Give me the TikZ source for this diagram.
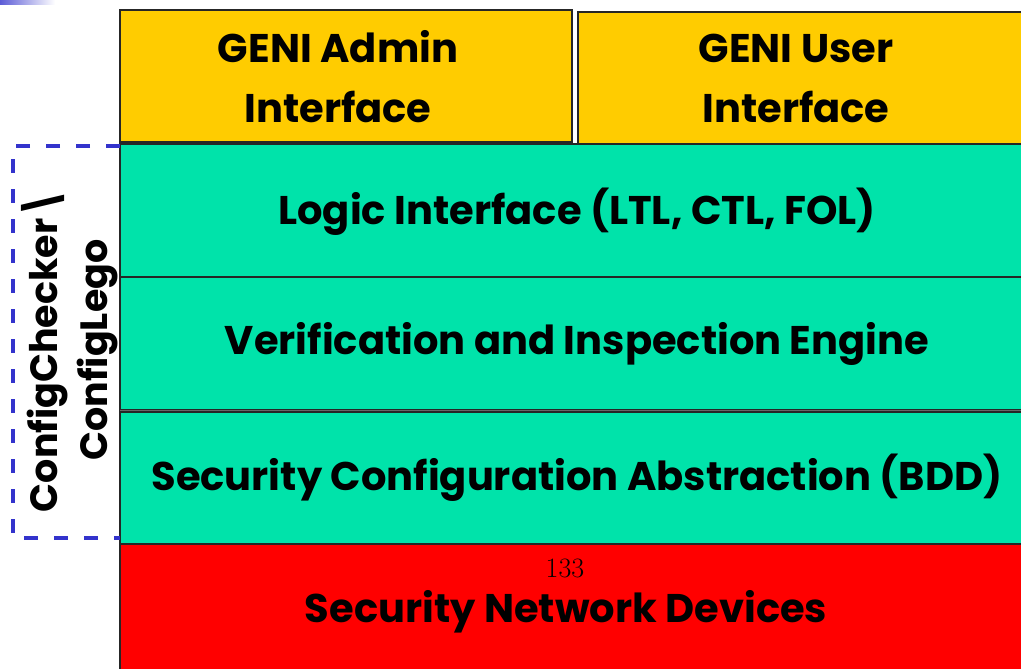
\documentclass[tikz,border=0pt]{standalone}
\usepackage{fontspec}
\setmainfont{Poppins}[BoldFont={Poppins Bold}]
\newfontfamily\numfont{Latin Modern Roman}
\begin{document}
\begin{tikzpicture}[x=1pt,y=-1pt,
  layer/.style={draw=black!85,line width=1.6pt,anchor=north west,inner sep=0pt,outer sep=0pt},
  lbl/.style={font=\bfseries\fontsize{40}{60}\selectfont,text=black,align=center}]
\definecolor{gyel}{RGB}{255,204,0}
\definecolor{ggrn}{RGB}{0,227,170}
\definecolor{gred}{RGB}{255,0,0}
\definecolor{gblu}{RGB}{51,51,204}
\useasboundingbox (0,0) rectangle (1021,669);
\shade[left color=gblu!80,right color=white] (0,0) rectangle (55,5);
% boxes
\node[layer,fill=gyel,minimum width=452pt,minimum height=132pt] (admin) at (120,10) {};
\node[layer,fill=gyel,minimum width=450pt,minimum height=132pt] (user) at (578,12) {};
\node[layer,fill=ggrn,minimum width=910pt,minimum height=133pt] (logic) at (120,144) {};
\node[layer,fill=ggrn,minimum width=910pt,minimum height=133pt] (verif) at (120,277) {};
\node[layer,fill=ggrn,minimum width=910pt,minimum height=132pt] (abs) at (120,412) {};
\node[layer,fill=gred,minimum width=910pt,minimum height=140pt] (dev) at (120,544) {};
\draw[black!60,line width=0.8pt] (120,410) -- (1030,410);
% labels
\node[lbl] (adminT) at (338,77) {GENI Admin\\Interface};
\node[lbl] (userT) at (796,78) {GENI User\\Interface};
\node[lbl] (logicT) at (577,212) {Logic Interface (LTL, CTL, FOL)};
\node[lbl] (verifT) at (577,344) {Verification and Inspection Engine};
\node[lbl] (absT) at (577,478) {Security Configuration Abstraction (BDD)};
\node[lbl] (devT) at (566,612) {Security Network Devices};
\node[font=\numfont\fontsize{28}{32}\selectfont] (num) at (565,568) {133};
% dashed frame
\draw[gblu,line width=3.5pt,dash pattern=on 14pt off 16pt] (120,146) -- (13,146) -- (13,538) -- (120,538);
\node[lbl,font=\bfseries\fontsize{38}{50}\selectfont,rotate=90] (cc) at (70,350) {ConfigChecker\textbackslash\\ConfigLego};
\end{tikzpicture}
\end{document}
